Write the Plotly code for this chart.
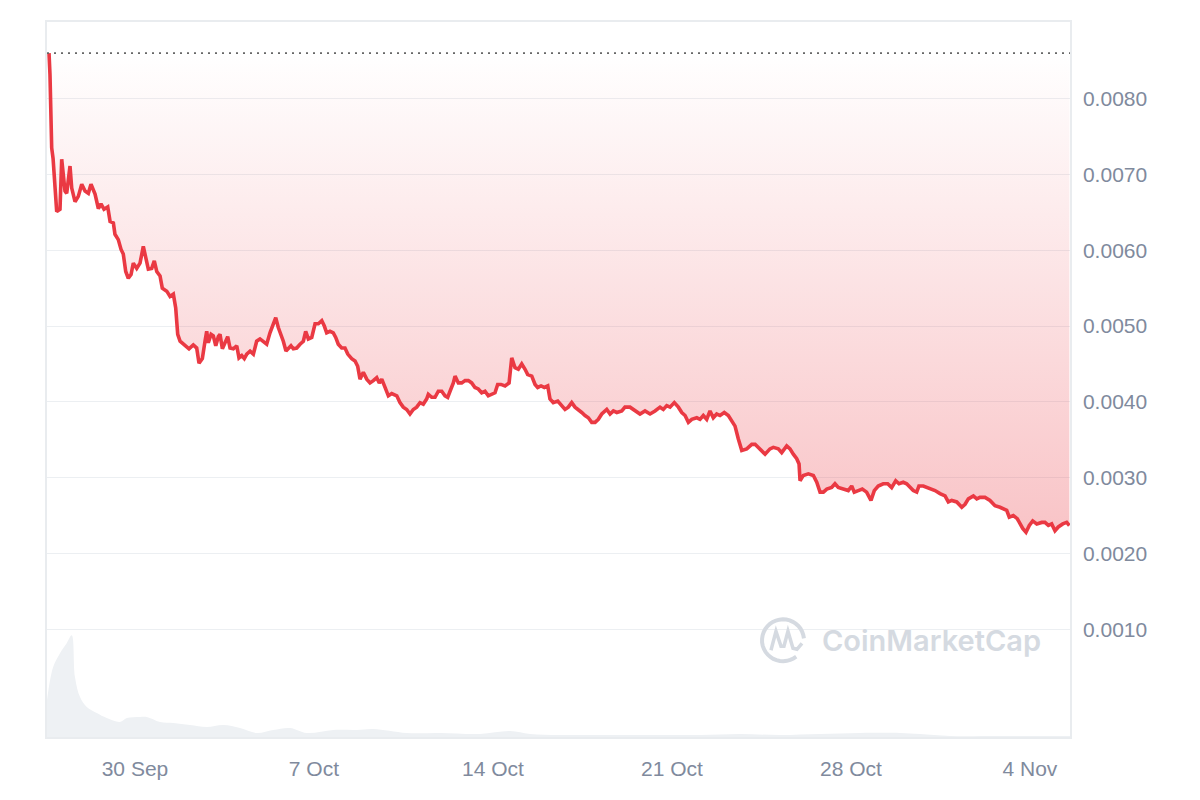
import math
import pandas as pd
import plotly.graph_objects as go

# ---------------- data ----------------
start_time = pd.Timestamp("2023-09-26 15:20")

# hours since start_time
hours = [
    0, 0.9, 2.5, 3.8, 7.2, 10.3, 11.9, 15.0, 16.6, 19.7,
    21.3, 24.4, 27.5, 30.7, 33.8, 36.9, 39.4, 43.2, 46.3, 48.8,
    51.6, 55.1, 57.3, 60.4, 61.9, 65.0, 67.6, 69.7, 72.0, 74.4,
    77.0, 79.1, 82.3, 85.4, 88.5, 90.1, 93.2, 96.4, 98.8, 101.1,
    104.2, 106.3, 110.5, 113.6, 116.7, 118.9, 120.8, 123.0, 127.6, 131.4,
    135.4, 138.6, 140.8, 143.9, 146.4, 148.0, 149.5, 152.1, 154.2, 156.5,
    158.9, 160.5, 162.7, 165.2, 167.7, 169.9, 173.0, 176.2, 178.3, 180.9,
    183.3, 185.6, 188.7, 191.8, 194.9, 198.0, 201.1, 204.3, 207.4, 210.5,
    212.8, 215.2, 217.8, 219.9, 222.4, 224.6, 227.1, 229.3, 232.5, 235.6,
    238.7, 240.9, 243.4, 246.6, 249.7, 252.8, 256.0, 258.4, 260.6, 263.7,
    266.8, 269.1, 271.5, 274.7, 277.8, 280.4, 284.1, 287.2, 289.7, 291.9,
    295.0, 298.2, 301.3, 304.4, 307.6, 310.0, 312.3, 315.4, 318.5, 321.7,
    326.4, 329.4, 332.5, 335.7, 338.8, 341.9, 345.1, 348.2, 351.3, 354.5,
    356.0, 359.2, 362.3, 365.4, 368.6, 371.7, 374.2, 376.4, 379.5, 381.1,
    384.2, 387.4, 390.5, 393.6, 396.7, 399.8, 402.9, 406.1, 409.2, 412.3,
    415.5, 418.6, 421.1, 424.2, 428.0, 431.8, 434.3, 437.4, 440.5, 443.7,
    446.8, 449.3, 453.1, 456.2, 458.7, 461.8, 464.9, 468.1, 470.2, 473.3,
    477.5, 481.2, 484.3, 487.4, 490.6, 493.7, 496.8, 500.0, 503.1, 506.2,
    509.4, 512.5, 515.6, 518.8, 523.5, 526.6, 529.7, 532.9, 537.6, 540.6,
    545.3, 550.0, 554.7, 559.4, 564.1, 568.8, 573.5, 576.6, 579.8, 582.9,
    586.9, 590.7, 593.9, 597.0, 600.1, 603.3, 608.0, 611.0, 614.1, 617.3,
    620.4, 623.5, 626.7, 629.8, 633.8, 637.6, 640.8, 643.9, 647.0, 650.2,
    654.9, 659.6, 662.7, 667.4, 672.1, 676.7, 679.8, 684.5, 687.7, 692.4,
    695.5, 698.6, 701.8, 704.0, 704.9, 708.0, 712.7, 717.4, 720.6, 723.7,
    726.8, 730.0, 734.6, 737.7, 740.8, 745.5, 750.2, 753.4, 755.8, 759.6,
    763.3, 767.4, 771.5, 774.6, 778.3, 783.0, 787.2, 790.9, 794.7, 797.8,
    801.8, 805.0, 808.1, 811.2, 814.4, 816.5, 820.6, 824.7, 828.5, 831.6,
    836.3, 841.0, 844.1, 847.3, 852.0, 856.7, 859.8, 862.9, 867.6, 870.8,
    873.8, 878.5, 883.2, 887.9, 892.6, 895.7, 898.9, 901.3, 905.1, 908.8,
    911.4, 913.9, 917.0, 920.1, 923.3, 927.1, 931.8, 934.8, 938.0, 941.1,
    944.2, 947.3, 951.5, 955.2, 957.7,
]

# price in units of 1e-5 USD
price_1e5 = [
    860, 832, 735, 721, 651, 654, 720, 678, 675, 711,
    682, 664, 671, 687, 678, 675, 687, 674, 655, 661,
    654, 657, 638, 636, 621, 614, 601, 595, 572, 563,
    568, 583, 576, 583, 605, 595, 575, 576, 586, 572,
    566, 550, 546, 539, 542, 524, 489, 480, 474, 470,
    475, 471, 451, 457, 480, 493, 478, 489, 487, 474,
    486, 489, 470, 478, 486, 471, 470, 474, 458, 461,
    457, 463, 467, 463, 480, 483, 480, 476, 491, 503,
    511, 498, 489, 480, 467, 471, 474, 470, 471, 476,
    480, 493, 483, 485, 503, 503, 507, 500, 491, 493,
    491, 485, 476, 471, 471, 463, 457, 454, 447, 430,
    439, 430, 425, 428, 432, 425, 430, 419, 408, 411,
    408, 399, 393, 390, 384, 390, 393, 399, 397, 404,
    410, 406, 406, 414, 414, 408, 406, 414, 425, 434,
    425, 425, 428, 428, 425, 419, 417, 412, 414, 408,
    410, 412, 423, 423, 421, 425, 458, 445, 443, 450,
    443, 436, 434, 423, 419, 421, 419, 421, 404, 399,
    401, 395, 390, 393, 399, 393, 390, 386, 382, 379,
    373, 373, 377, 384, 390, 384, 388, 386, 388, 393,
    393, 388, 384, 388, 384, 388, 393, 390, 395, 393,
    399, 393, 386, 382, 373, 377, 379, 377, 382, 377,
    388, 379, 384, 382, 386, 382, 375, 368, 351, 336,
    338, 344, 344, 338, 331, 338, 340, 338, 333, 342,
    338, 331, 325, 318, 296, 303, 305, 303, 294, 281,
    281, 285, 287, 292, 287, 285, 283, 289, 281, 283,
    285, 281, 270, 283, 289, 292, 292, 287, 296, 292,
    294, 292, 287, 283, 281, 289, 289, 287, 285, 283,
    279, 276, 268, 270, 268, 261, 265, 272, 276, 272,
    274, 274, 270, 263, 261, 259, 257, 248, 250, 246,
    239, 233, 228, 237, 243, 239, 241, 241, 237, 239,
    230, 235, 239, 241, 237,
]

# trading volume (relative units)
vol_hours = [-1.9, 3.8, 10.3, 16.6, 21.3, 24.4, 29.1, 35.4, 44.8, 54.2,
             66.6, 73.0, 85.4, 91.7, 104.2, 116.7, 132.3, 148.0, 163.6, 179.3,
             194.9, 210.5, 226.2, 241.9, 266.8, 288.8, 304.4, 335.7, 367.0, 404.5,
             432.7, 451.5, 479.6, 517.2, 564.1, 611.0, 648.6, 686.1, 723.7, 761.2,
             798.8, 817.5, 845.7, 892.6, 958.3]
volume = [37, 70, 84, 94, 102, 60, 40, 30, 24, 19,
          15, 19, 20, 20, 15, 14, 12, 10, 12, 9,
          4, 7, 9, 4, 7, 7, 8, 4, 4, 3,
          6, 3, 2, 2, 2, 2, 3, 2, 3, 4,
          4, 3, 1, 1, 1]

tick_dates = ["2023-09-30", "2023-10-07", "2023-10-14", "2023-10-21", "2023-10-28", "2023-11-04"]
tick_labels = ["30 Sep", "7 Oct", "14 Oct", "21 Oct", "28 Oct", "4 Nov"]
y_ticks = [0.001, 0.002, 0.003, 0.004, 0.005, 0.006, 0.007, 0.008]

# ---------------- build ----------------
assert len(hours) == len(price_1e5), (len(hours), len(price_1e5))
times = [start_time + pd.Timedelta(hours=h) for h in hours]
price = [v / 1e5 for v in price_1e5]
base = price[0]
vol_times = [start_time + pd.Timedelta(hours=h) for h in vol_hours]

RED = "#ea3943"
TXT = "#808a9d"
WM = "#d5dae1"
FONT = "Liberation Sans, Arial, sans-serif"

# figure geometry (page has 8px body margin)
W, H = 1192, 792
ML, MR, MT, MB = 39, 130, 12, 63
PW, PH = W - ML - MR, H - MT - MB


def to_paper(px, py):
    # px, py: position measured inside the plot area from its top-left corner
    return px / PW, 1 - py / PH


fig = go.Figure()

fig.add_trace(go.Scatter(
    x=vol_times, y=volume, yaxis="y2", mode="lines",
    line=dict(width=0, shape="spline"), fill="tozeroy",
    fillcolor="#eef1f4", hoverinfo="skip", showlegend=False))

fig.add_trace(go.Scatter(
    x=times, y=[base] * len(times), mode="lines",
    line=dict(width=0), hoverinfo="skip", showlegend=False))

fig.add_trace(go.Scatter(
    x=times, y=price, mode="lines",
    line=dict(color=RED, width=3.6),
    fill="tonexty",
    fillgradient=dict(type="vertical", start=min(price), stop=base,
                      colorscale=[[0, "rgba(234,57,67,0.30)"],
                                  [1, "rgba(234,57,67,0.0)"]]),
    showlegend=False))

x0 = start_time - pd.Timedelta(hours=1.9)
x1 = start_time + pd.Timedelta(hours=958.3)

fig.add_shape(type="line", xref="paper", x0=0, x1=1, yref="y", y0=base, y1=base,
              line=dict(color="#666666", width=1.6, dash="2px,5px"), layer="above")

# watermark logo (circle with wavy M) + text
cx, cy, r = 736, 620, 21
arc = []
for k in range(0, 33):
    ang = math.radians(5 + k * 9.5)
    arc.append(to_paper(cx + r * math.cos(ang), cy - r * math.sin(ang)))
path = "M " + " L ".join(f"{a:.4f},{b:.4f}" for a, b in arc)
fig.add_shape(type="path", xref="paper", yref="paper", path=path,
              line=dict(color=WM, width=4), layer="above")
mpts = [(cx - 12, cy + 10), (cx - 7, cy - 9), (cx - 2, cy + 6), (cx + 1, cy + 6),
        (cx + 5, cy - 9), (cx + 10, cy + 8), (cx + 14, cy + 9), (cx + 19, cy + 3)]
mpath = "M " + " L ".join(f"{a:.4f},{b:.4f}" for a, b in (to_paper(*p) for p in mpts))
fig.add_shape(type="path", xref="paper", yref="paper", path=mpath,
              line=dict(color=WM, width=3.5), layer="above")
tx, ty = to_paper(884, 620)
fig.add_annotation(xref="paper", yref="paper", x=tx, y=ty,
                   text="CoinMarketCap", showarrow=False,
                   font=dict(family="Inter, Roboto, sans-serif", size=29,
                             color=WM, weight=600),
                   xanchor="center", yanchor="middle")

fig.update_layout(
    width=W, height=H,
    margin=dict(l=ML, r=MR, t=MT, b=MB),
    paper_bgcolor="white", plot_bgcolor="white",
    font=dict(family=FONT, color=TXT, size=21),
    xaxis=dict(type="date", range=[x0, x1], tickvals=tick_dates, ticktext=tick_labels,
               showgrid=False, zeroline=False, showline=True, mirror=True,
               linecolor="#e9ecef", linewidth=1.5, ticks="", ticklabelstandoff=12,
               tickfont=dict(size=21, color=TXT, family=FONT)),
    yaxis=dict(side="right", range=[-0.00042, 0.00901], tickvals=y_ticks,
               tickformat=".4f", showgrid=True, gridcolor="#eceff2", gridwidth=1,
               zeroline=False, showline=True, mirror=True, linecolor="#e9ecef",
               linewidth=1.5, ticks="", ticklabelstandoff=7,
               tickfont=dict(size=21, color=TXT, family=FONT)),
    yaxis2=dict(overlaying="y", range=[0, 717], visible=False),
    hovermode=False,
)

fig.write_html("out.html")
